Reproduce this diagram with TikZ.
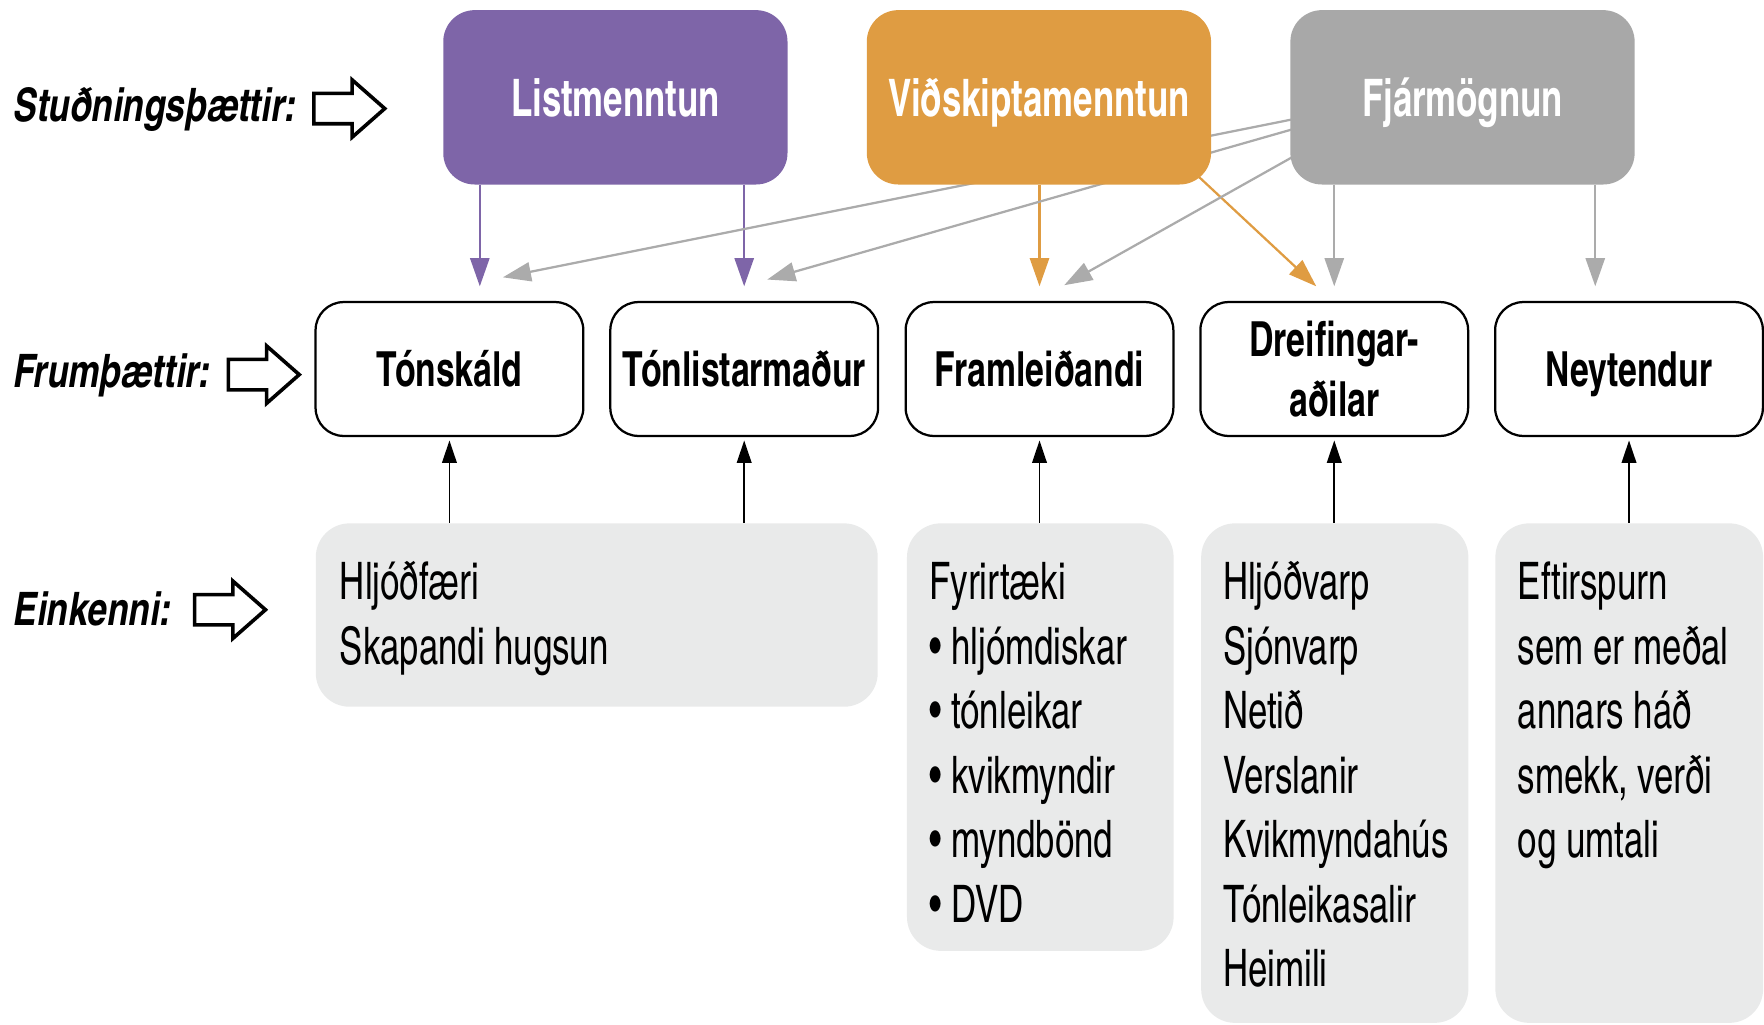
\documentclass[tikz,border=0pt]{standalone}
\usepackage{fontspec}
\setmainfont{texgyreheroscn}[Extension=.otf, UprightFont=*-regular, BoldFont=*-bold, ItalicFont=*-italic, BoldItalicFont=*-bolditalic, FakeStretch=0.82]
\newfontfamily\sidefont{texgyreheroscn}[Extension=.otf, UprightFont=*-bolditalic, FakeStretch=0.93]
\newfontfamily\midfont{texgyreheroscn}[Extension=.otf, UprightFont=*-bold, FakeStretch=0.85]
\usetikzlibrary{arrows.meta,calc,backgrounds}
\definecolor{lmpurple}{HTML}{7E65A8}
\definecolor{vorange}{HTML}{DF9C42}
\definecolor{fgrey}{HTML}{A8A8A8}
\definecolor{agrey}{HTML}{ABABAB}
\definecolor{lightbox}{HTML}{E9EAEA}
\tikzset{
  topbox/.style={rounded corners=28pt, minimum width=306pt, minimum height=155pt, inner sep=0pt, text=white,
    font=\bfseries\fontsize{46}{52}\selectfont, text height=33.5pt, text depth=0pt},
  midbox/.style={draw=black, line width=2pt, fill=white, rounded corners=25pt, minimum width=238pt,
    minimum height=119pt, inner sep=0pt, align=center, font=\midfont\fontsize{43}{53}\selectfont},
  oneline/.style={text height=31.5pt, text depth=0pt},
  infobox/.style={fill=lightbox, rounded corners=30pt, inner sep=0pt, anchor=north west},
  infotext/.style={anchor=north west, inner sep=0pt, align=left, font=\fontsize{46}{57.3}\selectfont},
  sidelabel/.style={anchor=base west, inner sep=0pt, font=\sidefont\fontsize{41}{41}\selectfont},
  hollow/.style={draw=black, line width=3.2pt, fill=white, line join=miter},
  harrow/.pic={\draw[hollow] (0,13.5) -- (34,13.5) -- (34,25.5) -- (63,0) -- (34,-25.5) -- (34,-13.5) -- (0,-13.5) -- cycle;},
  conn/.style={line width=2pt, -{Triangle[length=25pt,width=17pt]}},
  upconn/.style={line width=1.6pt, draw=black, -{Triangle[length=20pt,width=13pt]}, shorten >=3pt},
}
\begin{document}
\begin{tikzpicture}[x=1pt,y=1pt]
\useasboundingbox (0,0) rectangle (1568,-911);

% side labels
\node[sidelabel] (l1) at (12,-108) {Stuðningsþættir:};
\node[sidelabel] (l2) at (12,-344) {Frumþættir:};
\node[sidelabel] (l3) at (12,-556) {Einkenni:};
\pic at (279,-96.5) {harrow};
\pic at (203,-333) {harrow};
\pic at (173,-542) {harrow};

% top boxes
\node[topbox, fill=lmpurple] (lm) at (547,-86.5) {Listmenntun};
\node[topbox, fill=vorange] (vi) at (923.5,-86.5) {Viðskiptamenntun};
\node[topbox, fill=fgrey] (fj) at (1300,-86.5) {Fjármögnun};

% middle boxes
\node[midbox, oneline] (ton) at (399.5,-328) {Tónskáld};
\node[midbox, oneline] (tl) at (661.5,-328) {Tónlistarmaður};
\node[midbox, oneline] (fr) at (924,-328) {Framleiðandi};
\node[midbox] (dr) at (1186,-328) {Dreifingar-\\aðilar};
\node[midbox, oneline] (ne) at (1448,-328) {Neytendur};

% info boxes
\node[infobox, minimum width=499.5pt, minimum height=163pt] (bA) at (280.5,-465) {};
\node[infobox, minimum width=237pt, minimum height=380pt] (bB) at (806,-465) {};
\node[infobox, minimum width=237.5pt, minimum height=444pt] (bC) at (1067.5,-465) {};
\node[infobox, minimum width=238pt, minimum height=444pt] (bD) at (1329,-465) {};

\node[infotext] (tA) at (302,-493) {\rule{0pt}{40pt}Hljóðfæri\\Skapandi hugsun};
\node[infotext] (tB) at (826,-493) {\rule{0pt}{40pt}Fyrirtæki\\\textbullet\ hljómdiskar\\\textbullet\ tónleikar\\\textbullet\ kvikmyndir\\\textbullet\ myndbönd\\\textbullet\ DVD};
\node[infotext] (tC) at (1087,-493) {\rule{0pt}{40pt}Hljóðvarp\\Sjónvarp\\Netið\\Verslanir\\Kvikmyndahús\\Tónleikasalir\\Heimili};
\node[infotext] (tD) at (1349,-493) {\rule{0pt}{40pt}Eftirspurn\\sem er meðal\\annars háð\\smekk, verði\\og umtali};

% target points
\coordinate (pa1) at ($(ton.north)+(27,13)$);
\coordinate (pa2) at ($(tl.north)+(0,13)$);
\coordinate (oa1) at ($(fr.north)+(0,13)$);
\coordinate (oa2) at ($(dr.north)+(-16,13)$);
\coordinate (os2) at ($(vi.south east)+(-25,20)$);
\coordinate (ga1) at ($(dr.north)+(0,13)$);
\coordinate (ga2) at ($(ne.north)+(-30,13)$);
\coordinate (gd1) at ($(ton.north)+(47.5,21)$);
\coordinate (gd2) at ($(tl.north)+(20.5,19)$);
\coordinate (gd3) at ($(fr.north)+(22,14)$);
\coordinate (gs1) at ($(fj.west)+(20,-16)$);
\coordinate (gs2) at ($(fj.west)+(20,-23.3)$);
\coordinate (gs3) at ($(fj.west)+(20,-43)$);

\begin{scope}[on background layer]
\draw[conn, draw=lmpurple] (lm.south -| pa1) -- (pa1);
\draw[conn, draw=lmpurple] (lm.south -| pa2) -- (pa2);
\draw[conn, draw=vorange] (vi.south -| oa1) -- (oa1);
\draw[conn, draw=vorange] (os2) -- (oa2);
\draw[conn, draw=agrey] (fj.south -| ga1) -- (ga1);
\draw[conn, draw=agrey] (fj.south -| ga2) -- (ga2);
\draw[conn, draw=agrey] (gs1) -- (gd1);
\draw[conn, draw=agrey] (gs2) -- (gd2);
\draw[conn, draw=agrey] (gs3) -- (gd3);
\draw[upconn] (bA.north -| ton.south) -- (ton.south);
\draw[upconn] (bA.north -| tl.south) -- (tl.south);
\draw[upconn] (bB.north -| fr.south) -- (fr.south);
\draw[upconn] (bC.north -| dr.south) -- (dr.south);
\draw[upconn] (bD.north -| ne.south) -- (ne.south);
\end{scope}
\end{tikzpicture}
\end{document}
